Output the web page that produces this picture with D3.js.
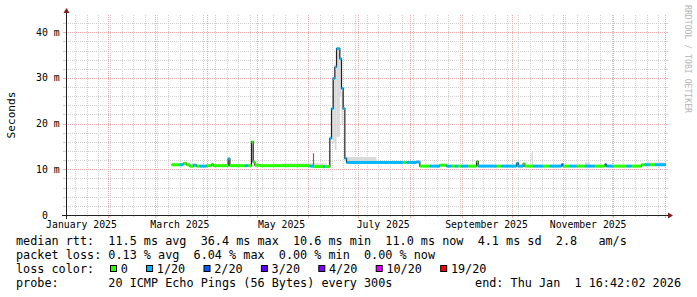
<!DOCTYPE html>
<html>
<head>
<meta charset="utf-8">
<script src="https://cdn.jsdelivr.net/npm/d3@7"></script>
<style>
  body { margin: 0; background: #fff; }
  svg { display: block; font-family: "DejaVu Sans Mono", monospace; }
  text { white-space: pre; }
</style>
</head>
<body>
<svg id="chart"></svg>
<script>
// time range: last 360 days up to the graph end
const endTime = new Date("2026-01-01T16:42:02Z");
const startTime = d3.utcDay.offset(endTime, -360);

// median rtt (ms), one step per date, with pings lost out of 20
const medianDates = [
  "2025-03-11","2025-03-16","2025-03-18","2025-03-20","2025-03-22","2025-03-24","2025-03-26","2025-03-28","2025-04-01","2025-04-04",
  "2025-04-05","2025-04-14","2025-04-15","2025-04-24","2025-04-26","2025-04-28","2025-04-29","2025-04-30","2025-05-03","2025-06-02",
  "2025-06-04","2025-06-10","2025-06-11","2025-06-14","2025-06-15","2025-06-16","2025-06-17","2025-06-18","2025-06-20","2025-06-21",
  "2025-06-22","2025-06-23","2025-06-24","2025-07-28","2025-07-30","2025-08-05","2025-08-07","2025-08-13","2025-08-19","2025-08-23",
  "2025-08-26","2025-08-28","2025-08-30","2025-09-01","2025-09-05","2025-09-10","2025-09-11","2025-09-22","2025-09-25","2025-10-04",
  "2025-10-05","2025-10-08","2025-10-09","2025-10-14","2025-10-20","2025-10-24","2025-10-31","2025-11-01","2025-11-05","2025-11-09",
  "2025-11-14","2025-11-20","2025-11-26","2025-11-27","2025-12-01","2025-12-09","2025-12-12","2025-12-18","2025-12-20","2025-12-23",
  "2025-12-26"
];
const medianMs = [
  11.0,11.0,11.3,11.0,10.7,10.9,10.7,10.7,10.8,11.1,
  10.8,12.3,10.8,10.8,10.8,16.0,11.6,10.9,10.8,10.7,
  10.6,10.6,10.6,16.8,23.3,29.9,32.4,36.4,34.2,27.7,
  23.3,12.4,11.5,11.5,11.5,11.6,10.7,10.7,10.9,10.7,
  10.7,10.7,10.7,10.7,10.7,11.7,10.7,10.7,10.7,11.3,
  10.7,11.2,10.7,10.7,10.7,10.7,11.0,10.7,10.7,10.7,
  10.7,10.7,11.0,10.7,10.7,10.7,10.7,11.0,11.0,11.0,
  11.0
];
const lossCount = [
  0,1,0,0,0,1,0,1,0,0,
  0,1,0,1,0,0,0,0,0,1,
  0,1,0,1,1,1,1,1,1,1,
  1,1,1,0,1,1,0,1,0,1,
  0,1,0,1,0,0,1,0,1,1,
  1,0,0,1,0,1,2,0,1,0,
  1,0,2,1,0,1,0,0,1,0,
  1
];

// smoke (spread of the individual pings)
const smokeFrom = ["2025-05-16","2025-06-15","2025-06-16","2025-06-17","2025-06-18","2025-06-20","2025-06-21","2025-06-24","2025-10-13","2025-11-14","2025-12-20"];
const smokeTo   = ["2025-06-12","2025-06-16","2025-06-17","2025-06-18","2025-06-20","2025-06-21","2025-06-22","2025-07-12","2025-10-14","2025-11-17","2026-01-01T16:42:02Z"];
const smokeLowMs  = [10.7,16.5,15.7,14.2,17.1,25.9,20.0,11.5,10.9,10.9,11.0];
const smokeHighMs = [11.3,23.0,29.5,31.7,36.0,33.9,27.0,12.7,13.7,11.5,11.5];

// single slow pings
const outlierDates = ["2025-06-04","2025-10-05"];
const outlierMs = [13.5, 11.5];

// axis ticks
const yTicks = [0, 10, 20, 30, 40];
const yTickLabels = [" 0  ", "10 m", "20 m", "30 m", "40 m"];

// loss colour legend
const lossSteps = [0, 1, 2, 3, 4, 10, 19];
const lossLabels = ["0", "1/20", "2/20", "3/20", "4/20", "10/20", "19/20"];
const lossColors = ["#26ff00", "#00b8ff", "#0059ff", "#5e00ff", "#7e00ff", "#dd00ff", "#ff0000"];

// legend text
const legendRtt = "median rtt:  11.5 ms avg  36.4 ms max  10.6 ms min  11.0 ms now  4.1 ms sd  2.8   am/s";
const legendLoss = "packet loss: 0.13 % avg  6.04 % max  0.00 % min  0.00 % now";
const legendProbe = "probe:       20 ICMP Echo Pings (56 Bytes) every 300s";
const legendEnd = "end: Thu Jan  1 16:42:02 2026";

const W = 697, H = 297;
const margin = {top: 15, right: 31, bottom: 82, left: 66};
const x0 = margin.left, x1 = W - margin.right;
const y0 = H - margin.bottom, y1 = margin.top;

const svg = d3.select("#chart").attr("width", W).attr("height", H);
svg.append("rect").attr("width", W).attr("height", H).attr("fill", "#fff");

const xScale = d3.scaleUtc().domain([startTime, endTime]).range([x0, x1]);
const yScale = d3.scaleLinear().domain([0, 43.78]).range([y0, y1]);

const parse = s => new Date(s.length > 10 ? s : s + "T00:00:00Z");
const lossColor = n => lossColors[d3.bisectRight(lossSteps, n) - 1];

const minorCol = "#d0d0d0", majorCol = "#e8acac";
const crisp = v => Math.round(v) + 0.5;

// grid
const grid = svg.append("g").attr("stroke-width", 1).attr("fill", "none");
const minorY = d3.range(2, 43.78, 2).filter(v => v % 10 !== 0);
const majorY = yTicks.filter(v => v > 0);
[[minorY, minorCol], [majorY, majorCol]].forEach(([vals, col]) => {
  vals.forEach(v => {
    const y = crisp(yScale(v));
    grid.append("line").attr("x1", x0).attr("x2", x1).attr("y1", y).attr("y2", y)
        .attr("stroke", col).attr("stroke-dasharray", "1,1");
    grid.append("line").attr("x1", x0 - 3).attr("x2", x0).attr("y1", y).attr("y2", y).attr("stroke", col);
    grid.append("line").attr("x1", x1).attr("x2", x1 + 2).attr("y1", y).attr("y2", y).attr("stroke", col);
  });
});
const majorX = d3.utcMonth.range(startTime, endTime);
const minorX = d3.utcSunday.range(startTime, endTime)
    .filter(d => !majorX.some(m => +m === +d));
[[minorX, minorCol, 2], [majorX, majorCol, 3]].forEach(([vals, col, tl]) => {
  vals.forEach(d => {
    const x = crisp(xScale(d));
    grid.append("line").attr("x1", x).attr("x2", x).attr("y1", y1).attr("y2", y0)
        .attr("stroke", col).attr("stroke-dasharray", "1,1");
    grid.append("line").attr("x1", x).attr("x2", x).attr("y1", y0).attr("y2", y0 + tl).attr("stroke", col);
  });
});

// smoke
const marks = svg.append("g");
marks.selectAll(".smoke")
  .data(smokeFrom.map((d, i) => ({from: parse(d), to: parse(smokeTo[i]), lo: smokeLowMs[i], hi: smokeHighMs[i]})))
  .join("rect")
    .attr("class", "smoke")
    .attr("x", d => xScale(d.from))
    .attr("width", d => xScale(d.to) - xScale(d.from))
    .attr("y", d => yScale(d.hi))
    .attr("height", d => yScale(d.lo) - yScale(d.hi))
    .attr("fill", "#d9d9d9");

// median line and loss coloured band
const medianData = medianDates.map((d, i) => ({date: parse(d), ms: medianMs[i], loss: lossCount[i]}));
const stepPoints = medianData.concat([{date: endTime, ms: medianMs[medianMs.length - 1]}]);

marks.selectAll(".outlier")
  .data(outlierDates.map((d, i) => ({date: parse(d), ms: outlierMs[i]})))
  .join("line")
    .attr("class", "outlier")
    .attr("x1", d => crisp(xScale(d.date))).attr("x2", d => crisp(xScale(d.date)))
    .attr("y1", d => yScale(d.ms)).attr("y2", yScale(10.7))
    .attr("stroke", "#6a6a6a").attr("stroke-width", 1.2);

const line = d3.line()
    .x(d => xScale(d.date))
    .y(d => yScale(d.ms))
    .curve(d3.curveStepAfter);

marks.append("path")
    .datum(stepPoints)
    .attr("d", line)
    .attr("fill", "none")
    .attr("stroke", "#202020")
    .attr("stroke-width", 1.2);

marks.selectAll(".band")
  .data(medianData)
  .join("rect")
    .attr("class", "band")
    .attr("x", d => xScale(d.date))
    .attr("width", (d, i) => xScale(stepPoints[i + 1].date) - xScale(d.date))
    .attr("y", d => yScale(d.ms) - 1.5)
    .attr("height", 3)
    .attr("fill", d => lossColor(d.loss));

// axes
const axisCol = "#202020", arrowCol = "#801f1f";
svg.append("line").attr("x1", x0 - 4).attr("x2", x1 + 4).attr("y1", y0 + 0.5).attr("y2", y0 + 0.5)
    .attr("stroke", axisCol);
svg.append("line").attr("x1", x0 + 0.5).attr("x2", x0 + 0.5).attr("y1", y0 + 4).attr("y2", y1 - 4)
    .attr("stroke", axisCol);
svg.append("path")
    .attr("d", `M${x1 + 2},${y0 - 2.5}L${x1 + 2},${y0 + 3.5}L${x1 + 7},${y0 + 0.5}Z`)
    .attr("fill", arrowCol);
svg.append("path")
    .attr("d", `M${x0 - 2.5},${y1 - 2}L${x0 + 3.5},${y1 - 2}L${x0 + 0.5},${y1 - 7}Z`)
    .attr("fill", arrowCol);

// y tick labels
svg.append("g").selectAll("text")
  .data(yTicks)
  .join("text")
    .attr("x", 36)
    .attr("y", d => yScale(d) + 3.5)
    .attr("font-size", "9.8px")
    .attr("fill", "#000")
    .text((d, i) => yTickLabels[i]);

// x tick labels: every second month, centred on the middle of the month
const labelMonths = d3.utcMonth.every(2).range(d3.utcYear.floor(startTime), endTime)
    .filter(d => d3.utcDay.offset(d, 15) >= startTime && d3.utcDay.offset(d, 15) <= endTime);
svg.append("g").selectAll("text")
  .data(labelMonths)
  .join("text")
    .attr("x", d => xScale(d3.utcDay.offset(d, 15)))
    .attr("y", 227.5)
    .attr("text-anchor", "middle")
    .attr("font-size", "9.8px")
    .text(d => d3.utcFormat("%B %Y")(d));

// unit label
svg.append("text")
    .attr("transform", `translate(15,${(y0 + y1) / 2}) rotate(-90)`)
    .attr("text-anchor", "middle")
    .attr("font-size", "11.1px")
    .text("Seconds");

// watermark
svg.append("text")
    .attr("transform", "translate(685,5) rotate(90)")
    .attr("font-size", "8px")
    .attr("fill", "#b4b4b4")
    .attr("textLength", 108)
    .attr("lengthAdjust", "spacingAndGlyphs")
    .text("RRDTOOL / TOBI OETIKER");

// legend
const legend = svg.append("g").attr("font-size", "11.8px").attr("fill", "#000");
const charW = 7.1;
legend.append("text").attr("x", 16).attr("y", 244.5).text(legendRtt);
legend.append("text").attr("x", 16).attr("y", 258.5).text(legendLoss);
legend.append("text").attr("x", 16).attr("y", 272.5).text("loss color:");
legend.append("text").attr("x", 16).attr("y", 286.5).text(legendProbe);
legend.append("text").attr("x", 681).attr("y", 286.5).attr("text-anchor", "end").text(legendEnd);

let lx = 110;
lossLabels.forEach((lab, i) => {
  legend.append("rect")
      .attr("x", lx + 0.5).attr("y", 265.5)
      .attr("width", 6).attr("height", 6)
      .attr("fill", lossColors[i]).attr("stroke", "#000");
  legend.append("text").attr("x", lx + 10.7).attr("y", 272.5).text(lab);
  lx += 7 + 3.7 + lab.length * charW + 18.3;
});
</script>
</body>
</html>
